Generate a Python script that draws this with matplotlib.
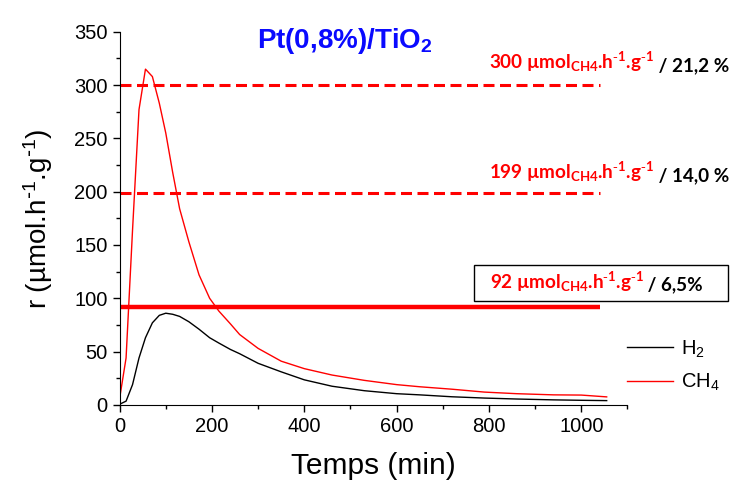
import matplotlib
matplotlib.use("Agg")
import matplotlib.pyplot as plt
from matplotlib.patches import Rectangle

# donnees (temps en min, r en umol/h/g)
temps = [0, 14, 28, 42, 56, 71, 86, 100, 115, 130, 150, 172, 195, 215, 240,
         260, 300, 350, 400, 460, 530, 600, 650, 720, 790, 860, 940, 1000, 1055]
h2 = [0.6, 3.5, 19, 44, 63, 77, 84, 86, 85, 83, 78, 71, 63, 58, 52,
      48, 39, 31, 23.5, 17.5, 13.3, 10.5, 9.4, 7.6, 6.4, 5.5, 4.7, 4.3, 4.0]
ch4 = [6, 44, 164, 277, 315, 308, 283, 255, 218, 184, 153, 122, 100, 88, 76,
       66, 53, 41, 34, 28, 23, 19, 17, 14.7, 12, 10.5, 9.4, 9.2, 7.5]

niveaux = [300, 199, 92]
textes = ["300 µmol$_{CH4}$.h$^{\\text{-}1}$.g$^{\\text{-}1}$",
          "199 µmol$_{CH4}$.h$^{\\text{-}1}$.g$^{\\text{-}1}$",
          "92 µmol$_{CH4}$.h$^{\\text{-}1}$.g$^{\\text{-}1}$"]
pourcents = [" / 21,2 %", " / 14,0 %", " / 6,5%"]

plt.rcParams['font.family'] = ['Liberation Sans', 'DejaVu Sans']
plt.rcParams['mathtext.default'] = 'regular'

fig = plt.figure(figsize=(7.32, 4.82), dpi=100)
ax = fig.add_axes([0.1634, 0.160, 0.6938, 0.774])

ax.plot(temps, h2, color='black', lw=1, label='H$_2$')
ax.plot(temps, ch4, color='red', lw=1, label='CH$_4$')

ax.hlines(niveaux[0], 0, 1040, colors='red', linestyles=(0, (3.6, 1.8)), lw=2.2)
ax.hlines(niveaux[1], 0, 1040, colors='red', linestyles=(0, (3.6, 1.8)), lw=2.2)
ax.hlines(niveaux[2], 0, 1040, colors='red', lw=3.2)

ax.set_xlim(0, 1100)
ax.set_ylim(0, 350)
ax.set_xticks(range(0, 1001, 200))
ax.set_xticks(range(0, 1101, 100), minor=True)
ax.set_yticks(range(0, 351, 50))
ax.set_yticks(range(0, 351, 25), minor=True)
ax.spines['top'].set_visible(False)
ax.spines['right'].set_visible(False)
ax.tick_params(which='major', length=5, width=1, labelsize=14.5)
ax.tick_params(which='minor', length=3, width=1)

ax.set_xlabel('Temps (min)', fontsize=21.5, labelpad=12)
ax.set_ylabel('r (µmol.h$^{\\text{-}1}$.g$^{\\text{-}1}$)', fontsize=20, labelpad=14)

fig.text(0.471, 0.915, 'Pt(0,8%)/TiO$_2$', color='#0a0aff', fontsize=20,
         fontweight='bold', ha='center', va='center')

ypos = [0.853, 0.625, 0.397]
xpos = [0.996, 0.996, 0.9605]
for i in range(3):
    noir = fig.text(xpos[i], ypos[i], pourcents[i], color='black', fontsize=13.6,
                    fontweight='bold', family=['Lato', 'DejaVu Sans'],
                    ha='right', va='baseline')
    ax.annotate(textes[i], xy=(0, 0), xycoords=noir, color='red', fontsize=13.6,
                fontweight='bold', family=['Lato', 'DejaVu Sans'],
                ha='right', va='bottom')

fig.patches.append(Rectangle((0.648, 0.375), 0.347, 0.075, transform=fig.transFigure,
                             fill=False, edgecolor='black', lw=1))

ax.legend(loc='upper left', bbox_to_anchor=(0.8566, 0.298), bbox_transform=fig.transFigure,
          frameon=False, fontsize=14.5, handlelength=2.3, handletextpad=0.4,
          labelspacing=0.6, borderaxespad=0, borderpad=0)

plt.savefig('out.png', dpi=100)
